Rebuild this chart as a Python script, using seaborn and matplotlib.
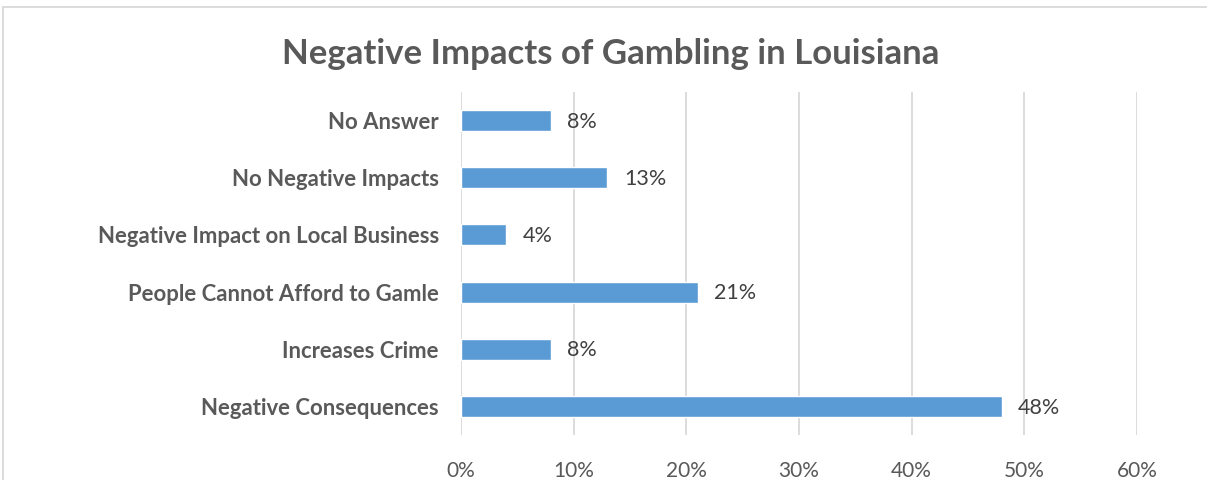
import matplotlib
matplotlib.use("Agg")
import matplotlib.pyplot as plt
import seaborn as sns
import pandas as pd
from matplotlib.lines import Line2D

categories = [
    "No Answer",
    "No Negative Impacts",
    "Negative Impact on Local Business",
    "People Cannot Afford to Gamle",
    "Increases Crime",
    "Negative Consequences",
]
shares = [8, 13, 4, 21, 8, 48]
ticks = [0, 10, 20, 30, 40, 50, 60]

df = pd.DataFrame({"category": categories, "share": shares})

sns.set_theme(style="white")
plt.rcParams["font.family"] = ["Lato", "DejaVu Sans"]

fig = plt.figure(figsize=(12.07, 4.8), dpi=100)
ax = fig.add_axes([461 / 1207, 1 - 435 / 480, (1137 - 461) / 1207, (435 - 92) / 480])

sns.barplot(data=df, x="share", y="category", orient="h", color="#5B9BD5",
            saturation=1, width=0.37, ax=ax, zorder=3)

ax.set_xlim(0, 60)
ax.set_ylim(5.5, -0.5)
ax.set_xticks(ticks)
ax.set_xticklabels([f"{t}%" for t in ticks], fontsize=15, color="#595959")
ax.tick_params(axis="x", length=0, pad=19)
ax.tick_params(axis="y", length=0, pad=16)
for lbl in ax.get_yticklabels():
    lbl.set_fontweight("bold")
    lbl.set_fontsize(15.9)
    lbl.set_color("#595959")
ax.set_xlabel("")
ax.set_ylabel("")
ax.xaxis.grid(True, color="#D9D9D9", linewidth=1.3, zorder=0)
ax.yaxis.grid(False)
for s in ax.spines.values():
    s.set_visible(False)

for i, v in enumerate(shares):
    ax.text(v + 1.45, i + 0.02, f"{v}%", va="center", ha="left", fontsize=15.5, color="#404040")

fig.text(611 / 1207, 1 - 54 / 480, "Negative Impacts of Gambling in Louisiana",
         ha="center", va="center", fontsize=25, fontweight="bold", color="#595959")

# chart frame
fig.add_artist(Line2D([3 / 1207, 1], [1 - 7 / 480, 1 - 7 / 480], transform=fig.transFigure,
                      color="#D9D9D9", linewidth=1.3))
fig.add_artist(Line2D([3 / 1207, 3 / 1207], [0, 1 - 7 / 480], transform=fig.transFigure,
                      color="#D9D9D9", linewidth=1.3))

fig.savefig("out.png", dpi=100)
